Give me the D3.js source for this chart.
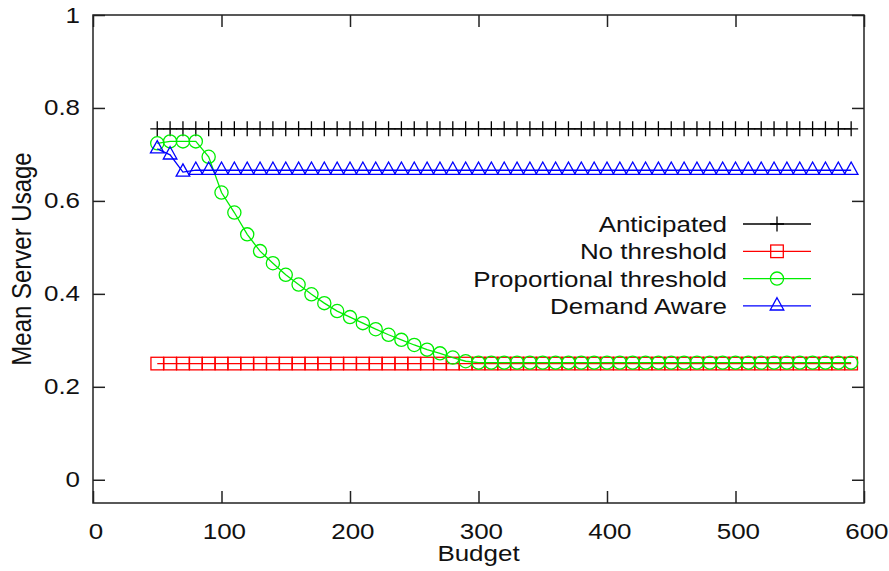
<!DOCTYPE html>
<html>
<head>
<meta charset="utf-8">
<script src="https://cdn.jsdelivr.net/npm/d3@7"></script>
<style>
  body { margin: 0; background: #fff; }
  svg { display: block; }
  text { font-family: "Liberation Sans", Arial, sans-serif; fill: #111; }
</style>
</head>
<body>
<div id="chart"></div>
<script>
// budget values on the x axis
var budget = [
    50, 60, 70, 80, 90, 100, 110, 120, 130, 140, 150,
    160, 170, 180, 190, 200, 210, 220, 230, 240, 250,
    260, 270, 280, 290, 300, 310, 320, 330, 340, 350,
    360, 370, 380, 390, 400, 410, 420, 430, 440, 450,
    460, 470, 480, 490, 500, 510, 520, 530, 540, 550,
    560, 570, 580, 590
];

var anticipated = [
    0.755, 0.755, 0.755, 0.755, 0.755, 0.755, 0.755, 0.755, 0.755, 0.755, 0.755,
    0.755, 0.755, 0.755, 0.755, 0.755, 0.755, 0.755, 0.755, 0.755, 0.755,
    0.755, 0.755, 0.755, 0.755, 0.755, 0.755, 0.755, 0.755, 0.755, 0.755,
    0.755, 0.755, 0.755, 0.755, 0.755, 0.755, 0.755, 0.755, 0.755, 0.755,
    0.755, 0.755, 0.755, 0.755, 0.755, 0.755, 0.755, 0.755, 0.755, 0.755,
    0.755, 0.755, 0.755, 0.755
];

var noThreshold = [
    0.25, 0.25, 0.25, 0.25, 0.25, 0.25, 0.25, 0.25, 0.25, 0.25, 0.25,
    0.25, 0.25, 0.25, 0.25, 0.25, 0.25, 0.25, 0.25, 0.25, 0.25,
    0.25, 0.25, 0.25, 0.25, 0.25, 0.25, 0.25, 0.25, 0.25, 0.25,
    0.25, 0.25, 0.25, 0.25, 0.25, 0.25, 0.25, 0.25, 0.25, 0.25,
    0.25, 0.25, 0.25, 0.25, 0.25, 0.25, 0.25, 0.25, 0.25, 0.25,
    0.25, 0.25, 0.25, 0.25
];

var proportional = [
    0.724, 0.728, 0.728, 0.728, 0.695, 0.618, 0.575, 0.528, 0.492, 0.466, 0.441,
    0.420, 0.399, 0.380, 0.363, 0.350, 0.337, 0.324, 0.312, 0.301, 0.290,
    0.280, 0.272, 0.263, 0.255, 0.252, 0.252, 0.252, 0.252, 0.252, 0.252,
    0.252, 0.252, 0.252, 0.252, 0.252, 0.252, 0.252, 0.252, 0.252, 0.252,
    0.252, 0.252, 0.252, 0.252, 0.252, 0.252, 0.252, 0.252, 0.252, 0.252,
    0.252, 0.252, 0.252, 0.252
];

var demandAware = [
    0.712, 0.699, 0.662, 0.666, 0.666, 0.666, 0.666, 0.666, 0.666, 0.666, 0.666,
    0.666, 0.666, 0.666, 0.666, 0.666, 0.666, 0.666, 0.666, 0.666, 0.666,
    0.666, 0.666, 0.666, 0.666, 0.666, 0.666, 0.666, 0.666, 0.666, 0.666,
    0.666, 0.666, 0.666, 0.666, 0.666, 0.666, 0.666, 0.666, 0.666, 0.666,
    0.666, 0.666, 0.666, 0.666, 0.666, 0.666, 0.666, 0.666, 0.666, 0.666,
    0.666, 0.666, 0.666, 0.666
];

var seriesNames = ["Anticipated", "No threshold", "Proportional threshold", "Demand Aware"];
var xTicks = [0, 100, 200, 300, 400, 500, 600];
var yTicks = [0, 0.2, 0.4, 0.6, 0.8, 1];

var width = 889, height = 571;
var plotLeft = 93, plotRight = 864, plotTop = 15, plotBottom = 503;
var stretch = "scale(1.18,1)";   // the picture is a bit wider than tall

var series = [
    { name: seriesNames[0], values: anticipated, color: "#000000", marker: "plus" },
    { name: seriesNames[1], values: noThreshold, color: "#ff0000", marker: "square" },
    { name: seriesNames[2], values: proportional, color: "#00ee00", marker: "circle" },
    { name: seriesNames[3], values: demandAware, color: "#0000ff", marker: "triangle" }
];

var svg = d3.select("#chart").append("svg")
    .attr("width", width)
    .attr("height", height);

var x = d3.scaleLinear().domain([0, 600]).range([plotLeft, plotRight]);
var y = d3.scaleLinear().domain([-0.05, 1]).range([plotBottom, plotTop]);

// axes: gnuplot style, ticks pointing in, mirrored on top and right
var xAxis = svg.append("g")
    .attr("transform", "translate(0," + plotBottom + ")")
    .call(d3.axisBottom(x).tickValues(xTicks).tickFormat(d3.format("d"))
        .tickSizeInner(-12).tickSizeOuter(0).tickPadding(20));
var yAxis = svg.append("g")
    .attr("transform", "translate(" + plotLeft + ",0)")
    .call(d3.axisLeft(y).tickValues(yTicks).tickFormat(function(d){ return d === 0 || d === 1 ? d : d3.format(".1f")(d); })
        .tickSizeInner(-12).tickSizeOuter(0).tickPadding(11));
svg.append("g")
    .attr("transform", "translate(0," + plotTop + ")")
    .call(d3.axisTop(x).tickValues(xTicks).tickFormat("").tickSizeInner(-12).tickSizeOuter(0));
svg.append("g")
    .attr("transform", "translate(" + plotRight + ",0)")
    .call(d3.axisRight(y).tickValues(yTicks).tickFormat("").tickSizeInner(-12).tickSizeOuter(0));

svg.selectAll(".domain").remove();
svg.selectAll(".tick line").attr("stroke", "#222").attr("stroke-width", 1.5);
svg.selectAll(".tick text")
    .attr("font-size", 22)
    .attr("fill", "#111")
    .attr("transform", stretch);
xAxis.selectAll(".tick text").attr("x", 2);

svg.append("rect")
    .attr("x", plotLeft).attr("y", plotTop)
    .attr("width", plotRight - plotLeft).attr("height", plotBottom - plotTop)
    .attr("fill", "none").attr("stroke", "#222").attr("stroke-width", 1.5);

// axis titles
svg.append("text")
    .attr("transform", "translate(" + (plotLeft + plotRight) / 2 + ",561) " + stretch)
    .attr("text-anchor", "middle")
    .attr("font-size", 22)
    .text("Budget");
svg.append("text")
    .attr("transform", "translate(31,259) " + stretch + " rotate(-90)")
    .attr("text-anchor", "middle")
    .attr("font-size", 24)
    .text("Mean Server Usage");

// marker shapes
function drawMarker(g, type, color) {
    if (type == "plus") {
        g.append("path").attr("d", "M-7,0H7M0,-7.5V7.5");
    } else if (type == "square") {
        g.append("rect").attr("x", -6.3).attr("y", -6.3).attr("width", 12.6).attr("height", 12.6);
    } else if (type == "circle") {
        g.append("circle").attr("r", 6.6);
    } else {
        g.append("path").attr("d", "M0,-8.2L6.8,4.1L-6.8,4.1Z");
    }
    g.selectAll("*").attr("fill", "none").attr("stroke", color).attr("stroke-width", 1.3);
}

var line = d3.line()
    .x(function(d){ return x(d[0]); })
    .y(function(d){ return y(d[1]); });

series.forEach(function(s){
    var pts = budget.map(function(b, i){ return [b, s.values[i]]; });
    var g = svg.append("g");
    g.append("path")
        .datum(pts)
        .attr("d", line)
        .attr("fill", "none")
        .attr("stroke", s.color)
        .attr("stroke-width", 1.3);
    g.selectAll(".pt")
        .data(pts)
        .enter().append("g")
        .attr("class", "pt")
        .attr("transform", function(d){ return "translate(" + x(d[0]) + "," + y(d[1]) + ")"; })
        .each(function(){ drawMarker(d3.select(this), s.marker, s.color); });
});

// legend
var legend = svg.append("g");
series.forEach(function(s, i){
    var ly = 224 + i * 27.3;
    legend.append("text")
        .attr("transform", "translate(727," + (ly + 8) + ") " + stretch)
        .attr("text-anchor", "end")
        .attr("font-size", 22)
        .text(s.name);
    legend.append("line")
        .attr("x1", 743).attr("x2", 811)
        .attr("y1", ly).attr("y2", ly)
        .attr("stroke", s.color).attr("stroke-width", 1.3);
    var m = legend.append("g").attr("transform", "translate(777," + ly + ")");
    drawMarker(m, s.marker, s.color);
});
</script>
</body>
</html>
